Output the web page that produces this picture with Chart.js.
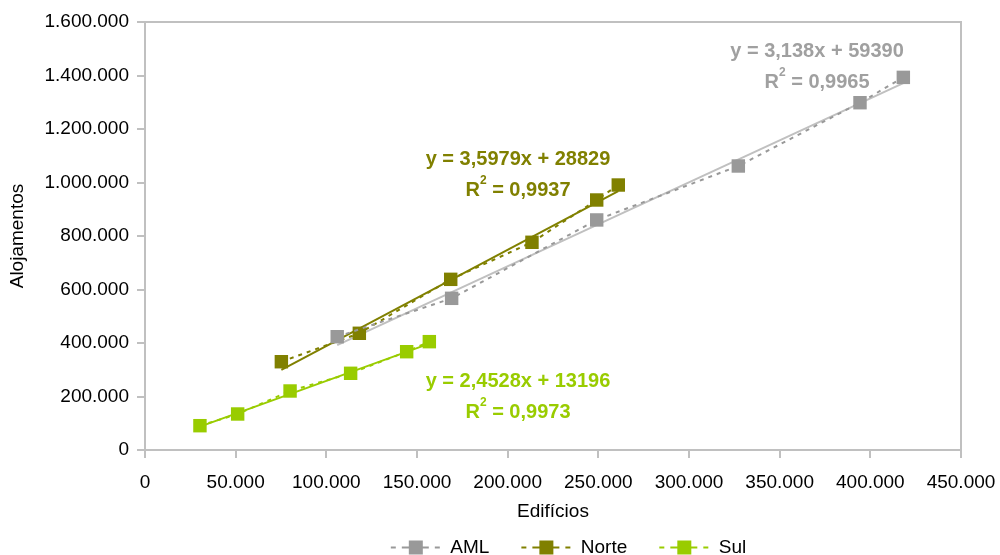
<!DOCTYPE html>
<html>
<head>
<meta charset="utf-8">
<script src="https://cdn.jsdelivr.net/npm/chart.js@4/dist/chart.umd.min.js"></script>
<style>
  html, body { margin: 0; padding: 0; background: #fff; }
  #wrap { width: 1000px; height: 555px; }
</style>
</head>
<body>
<div id="wrap"><canvas id="grafico"></canvas></div>
<script>
// dados
const series = ['AML', 'Norte', 'Sul'];
const cores = ['#999999', '#808000', '#99cc00'];
const coresTendencia = ['#c0c0c0', '#808000', '#99cc00'];

const edificiosAML = [106000, 169100, 249100, 327200, 394300, 418200];
const alojamentosAML = [423500, 567000, 860000, 1061700, 1298300, 1393000];
const edificiosNorte = [75200, 118200, 168600, 213400, 249100, 261000];
const alojamentosNorte = [330000, 436300, 638000, 776500, 934600, 990600];
const edificiosSul = [30300, 51100, 80000, 113400, 144300, 156800];
const alojamentosSul = [90900, 134600, 220600, 286700, 367500, 405000];

// linhas de tendência (equações do gráfico)
const declives = [3.138, 3.5979, 2.4528];
const ordenadas = [59390, 28829, 13196];
const equacoes = ['y = 3,138x + 59390', 'y = 3,5979x + 28829', 'y = 2,4528x + 13196'];
const r2 = ['0,9965', '0,9937', '0,9973'];
// onde ficam os rótulos das equações (unidades dos eixos)
const rotuloX = [370600, 205700, 205700];
const rotuloY = [1491600, 1087900, 258000];

const xTicks = [0, 50000, 100000, 150000, 200000, 250000, 300000, 350000, 400000, 450000];
const yTicks = [0, 200000, 400000, 600000, 800000, 1000000, 1200000, 1400000, 1600000];

const xs = [edificiosAML, edificiosNorte, edificiosSul];
const ys = [alojamentosAML, alojamentosNorte, alojamentosSul];

const fmt = v => String(v).replace(/\B(?=(\d{3})+(?!\d))/g, '.');
const FONTE = "'Liberation Sans', Arial, sans-serif";

function iconeLegenda(cor) {
    const c = document.createElement('canvas');
    c.width = 72; c.height = 16;
    const g = c.getContext('2d');
    g.strokeStyle = cor;
    g.lineWidth = 2;
    g.setLineDash([5, 6]);
    g.beginPath();
    g.moveTo(22, 8); g.lineTo(72, 8);
    g.stroke();
    g.setLineDash([]);
    g.beginPath();
    g.moveTo(38, 8); g.lineTo(56, 8);
    g.stroke();
    g.fillStyle = cor;
    g.fillRect(40, 1, 14, 14);
    return c;
}
const icones = cores.map(iconeLegenda);

const datasets = [];
series.forEach((nome, i) => {
    datasets.push({
        label: nome,
        data: xs[i].map((x, k) => ({ x, y: ys[i][k] })),
        showLine: true,
        borderColor: cores[i],
        backgroundColor: cores[i],
        borderWidth: 2,
        borderDash: [4, 5],
        pointStyle: 'rect',
        pointRadius: 9.5,
        pointHoverRadius: 9.5,
        pointBorderWidth: 0
    });
});
series.forEach((nome, i) => {
    const xmin = Math.min(...xs[i]), xmax = Math.max(...xs[i]);
    datasets.push({
        label: 'tendencia ' + nome,
        data: [xmin, xmax].map(x => ({ x, y: declives[i] * x + ordenadas[i] })),
        showLine: true,
        borderColor: coresTendencia[i],
        borderWidth: 2,
        pointRadius: 0
    });
});

const moldura = {
    id: 'moldura',
    afterLayout(chart) {
        chart.legend.left += 154;
    },
    beforeDatasetsDraw(chart) {
        const { ctx, chartArea: a } = chart;
        ctx.save();
        ctx.strokeStyle = '#c0c0c0';
        ctx.lineWidth = 2;
        ctx.beginPath();
        ctx.moveTo(a.left, a.top); ctx.lineTo(a.right, a.top); ctx.lineTo(a.right, a.bottom);
        ctx.stroke();
        ctx.restore();
    },
    afterDatasetsDraw(chart) {
        const { ctx, scales } = chart;
        ctx.save();
        ctx.textBaseline = 'middle';
        series.forEach((nome, i) => {
            const px = scales.x.getPixelForValue(rotuloX[i]);
            const py = scales.y.getPixelForValue(rotuloY[i]);
            ctx.fillStyle = i === 0 ? '#a0a0a0' : cores[i];
            ctx.font = 'bold 20px ' + FONTE;
            ctx.textAlign = 'center';
            ctx.fillText(equacoes[i], px, py);
            // R² com expoente
            const resto = ' = ' + r2[i];
            const wR = ctx.measureText('R').width;
            const wResto = ctx.measureText(resto).width;
            ctx.font = 'bold 12px ' + FONTE;
            const w2 = ctx.measureText('2').width;
            const total = wR + w2 + wResto;
            const x0 = px - total / 2;
            const y2 = py + 31;
            ctx.textAlign = 'left';
            ctx.font = 'bold 20px ' + FONTE;
            ctx.fillText('R', x0, y2);
            ctx.font = 'bold 12px ' + FONTE;
            ctx.fillText('2', x0 + wR, y2 - 9);
            ctx.font = 'bold 20px ' + FONTE;
            ctx.fillText(resto, x0 + wR + w2, y2);
        });
        ctx.restore();
    }
};

const ctx = document.getElementById('grafico').getContext('2d');
const grafico = new Chart(ctx, {
    type: 'scatter',
    data: { datasets },
    options: {
        responsive: true,
        maintainAspectRatio: false,
        animation: false,
        layout: { padding: { top: 22, right: 39, left: 0, bottom: -12 } },
        scales: {
            x: {
                type: 'linear',
                min: 0, max: 450000,
                afterBuildTicks: s => { s.ticks = xTicks.map(value => ({ value })); },
                afterFit: s => {
                    s.height = 555 + 12 - 450 - s.chart.legend.height;
                    s.paddingLeft = 0;
                    s.paddingRight = 0;
                },
                ticks: { callback: v => fmt(v), color: '#000', font: { family: FONTE, size: 19 }, padding: 13, maxRotation: 0 },
                grid: { drawOnChartArea: false, color: '#c0c0c0', lineWidth: 2, tickLength: 8 },
                border: { color: '#c0c0c0', width: 2 },
                title: { display: true, text: 'Edifícios', color: '#000', font: { family: FONTE, size: 19 }, padding: { top: 0, bottom: 5 } }
            },
            y: {
                type: 'linear',
                min: 0, max: 1600000,
                afterBuildTicks: s => { s.ticks = yTicks.map(value => ({ value })); },
                afterFit: s => { s.width = 145; },
                ticks: { callback: v => fmt(v), color: '#000', font: { family: FONTE, size: 19 }, padding: 8 },
                grid: { drawOnChartArea: false, color: '#c0c0c0', lineWidth: 2, tickLength: 8 },
                border: { color: '#c0c0c0', width: 2 },
                title: { display: true, text: 'Alojamentos', color: '#000', font: { family: FONTE, size: 19 }, padding: { top: 6, bottom: 0 } }
            }
        },
        plugins: {
            tooltip: { enabled: false },
            legend: {
                position: 'bottom',
                labels: {
                    color: '#000',
                    font: { family: FONTE, size: 19 },
                    usePointStyle: true,
                    pointStyleWidth: 72,
                    padding: 10,
                    generateLabels: chart => Chart.defaults.plugins.legend.labels.generateLabels(chart)
                        .filter(it => it.datasetIndex < 3)
                        .map(it => Object.assign(it, { pointStyle: icones[it.datasetIndex] }))
                }
            }
        }
    },
    plugins: [moldura]
});
</script>
</body>
</html>
